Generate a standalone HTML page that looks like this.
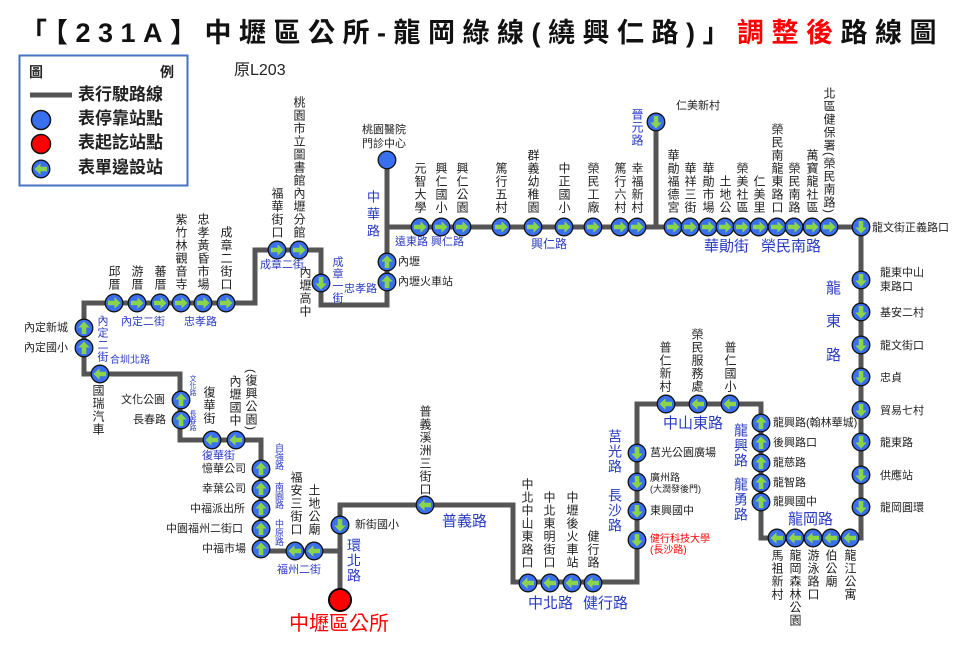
<!DOCTYPE html>
<html><head><meta charset="utf-8">
<style>
body{margin:0;background:#fff;}
#w{position:relative;width:960px;height:665px;overflow:hidden;font-family:"Liberation Sans","Noto Sans CJK TC",sans-serif;}
svg{position:absolute;left:0;top:0;}
.t{position:absolute;white-space:nowrap;color:#222;font-size:11px;line-height:12px;}
.v{position:absolute;writing-mode:vertical-rl;white-space:nowrap;color:#222;font-size:12px;line-height:14px;width:14px;letter-spacing:1px;}
.b{color:#2a3bc0;}
.r{color:#f00;}
</style></head><body><div id="w">
<svg width="960" height="665">
<defs>
<g id="a"><circle r="8.8" fill="#3a6ff0" stroke="#111" stroke-width="1.3"/><polygon points="-6,-2.3 0.5,-2.3 0.5,-5.8 6.5,0 0.5,5.8 0.5,2.3 -6,2.3" fill="#8ad44a"/></g>
</defs>
<g fill="none" stroke="#555" stroke-width="5" stroke-linejoin="miter">
<polyline points="340,600 340,505 513,505 513,582 637,582 637,404 761,404 761,538 861,538 861,227 387,227"/>
<polyline points="387,160 387,305 321,305 321,250 255,250 255,303 84,303 84,374 180,374 180,440 261,440 261,551 340,551"/>
<polyline points="656,122 656,227"/>
</g>
<circle cx="387" cy="160" r="8.8" fill="#3a6ff0" stroke="#111" stroke-width="1.3"/>
<circle cx="340" cy="600" r="11" fill="#f00" stroke="#000" stroke-width="2"/>
<g>
<use href="#a" x="114" y="303"/><use href="#a" x="137" y="303"/><use href="#a" x="160" y="303"/><use href="#a" x="181" y="303"/><use href="#a" x="203" y="303"/><use href="#a" x="226" y="303"/>
<use href="#a" x="277" y="250"/><use href="#a" x="299" y="250"/>
<use href="#a" x="420" y="227"/><use href="#a" x="441" y="227"/><use href="#a" x="462" y="227"/><use href="#a" x="501" y="227"/><use href="#a" x="533" y="227"/><use href="#a" x="564" y="227"/><use href="#a" x="593" y="227"/><use href="#a" x="620" y="227"/><use href="#a" x="637" y="227"/>
<use href="#a" x="673" y="227"/><use href="#a" x="690" y="227"/><use href="#a" x="708" y="227"/><use href="#a" x="725" y="227"/><use href="#a" x="742" y="227"/><use href="#a" x="759" y="227"/><use href="#a" x="777" y="227"/><use href="#a" x="794" y="227"/><use href="#a" x="812" y="227"/><use href="#a" x="829" y="227"/>
</g>
<g>
<use href="#a" transform="translate(321,283) rotate(90)"/>
<use href="#a" transform="translate(656,122) rotate(90)"/>
<use href="#a" transform="translate(861,227) rotate(90)"/>
<use href="#a" transform="translate(861,280) rotate(90)"/><use href="#a" transform="translate(861,312) rotate(90)"/><use href="#a" transform="translate(861,345) rotate(90)"/><use href="#a" transform="translate(861,377) rotate(90)"/><use href="#a" transform="translate(861,410) rotate(90)"/><use href="#a" transform="translate(861,442) rotate(90)"/><use href="#a" transform="translate(861,475) rotate(90)"/><use href="#a" transform="translate(861,507) rotate(90)"/>
<use href="#a" transform="translate(637,453) rotate(90)"/><use href="#a" transform="translate(637,482) rotate(90)"/><use href="#a" transform="translate(637,511) rotate(90)"/><use href="#a" transform="translate(637,540) rotate(90)"/>
<use href="#a" transform="translate(340,525) rotate(90)"/>
</g>
<g>
<use href="#a" transform="translate(387,262) rotate(-90)"/><use href="#a" transform="translate(387,282) rotate(-90)"/>
<use href="#a" transform="translate(84,328) rotate(-90)"/><use href="#a" transform="translate(84,348) rotate(-90)"/>
<use href="#a" transform="translate(181,400) rotate(-90)"/><use href="#a" transform="translate(181,420) rotate(-90)"/>
<use href="#a" transform="translate(261,469) rotate(-90)"/><use href="#a" transform="translate(261,489) rotate(-90)"/><use href="#a" transform="translate(261,509) rotate(-90)"/><use href="#a" transform="translate(261,529) rotate(-90)"/><use href="#a" transform="translate(261,549) rotate(-90)"/>
<use href="#a" transform="translate(761,423) rotate(-90)"/><use href="#a" transform="translate(761,443) rotate(-90)"/><use href="#a" transform="translate(761,463) rotate(-90)"/><use href="#a" transform="translate(761,483) rotate(-90)"/><use href="#a" transform="translate(761,502) rotate(-90)"/>
</g>
<g>
<use href="#a" transform="translate(100,374) rotate(180)"/>
<use href="#a" transform="translate(212,440) rotate(180)"/><use href="#a" transform="translate(236,440) rotate(180)"/>
<use href="#a" transform="translate(295,551) rotate(180)"/><use href="#a" transform="translate(314,551) rotate(180)"/>
<use href="#a" transform="translate(425,505) rotate(180)"/>
<use href="#a" transform="translate(528,583) rotate(180)"/><use href="#a" transform="translate(550,583) rotate(180)"/><use href="#a" transform="translate(572,583) rotate(180)"/><use href="#a" transform="translate(593,583) rotate(180)"/>
<use href="#a" transform="translate(666,404) rotate(180)"/><use href="#a" transform="translate(698,404) rotate(180)"/><use href="#a" transform="translate(730,404) rotate(180)"/>
<use href="#a" transform="translate(777,538) rotate(180)"/><use href="#a" transform="translate(795,538) rotate(180)"/><use href="#a" transform="translate(813,538) rotate(180)"/><use href="#a" transform="translate(831,538) rotate(180)"/><use href="#a" transform="translate(850,538) rotate(180)"/>
</g>
<rect x="19.5" y="55.5" width="168" height="130" fill="none" stroke="#4472c4" stroke-width="2"/>
<line x1="30" y1="95" x2="72" y2="95" stroke="#555" stroke-width="5"/>
<circle cx="41" cy="120" r="9.5" fill="#3a6ff0" stroke="#111" stroke-width="1.5"/>
<circle cx="41" cy="144" r="9.5" fill="#f00" stroke="#111" stroke-width="1.5"/>
<use href="#a" transform="translate(41,169) rotate(180)"/>
</svg>

<div class="t" style="left:20px;top:16px;font-size:27px;line-height:34px;font-weight:bold;letter-spacing:7.5px;color:#111;">「【231A】中壢區公所-龍岡綠線(繞興仁路)」<span class="r">調整後</span>路線圖</div>
<div class="t" style="left:29px;top:64px;font-size:14px;line-height:16px;font-weight:bold;">圖</div>
<div class="t" style="left:160px;top:64px;font-size:14px;line-height:16px;font-weight:bold;">例</div>
<div class="t" style="left:78px;top:85px;font-size:17px;line-height:19px;font-weight:bold;">表行駛路線</div>
<div class="t" style="left:78px;top:109px;font-size:17px;line-height:19px;font-weight:bold;">表停靠站點</div>
<div class="t" style="left:78px;top:133px;font-size:17px;line-height:19px;font-weight:bold;">表起訖站點</div>
<div class="t" style="left:78px;top:158px;font-size:17px;line-height:19px;font-weight:bold;">表單邊設站</div>
<div class="t" style="left:234px;top:62px;font-size:16px;line-height:18px;">原L203</div>

<div class="v" style="left:107px;bottom:374px;">邱厝</div>
<div class="v" style="left:130px;bottom:374px;">游厝</div>
<div class="v" style="left:153px;bottom:374px;">蕃厝</div>
<div class="v" style="left:174px;bottom:374px;">紫竹林觀音寺</div>
<div class="v" style="left:196px;bottom:374px;">忠孝黃昏市場</div>
<div class="v" style="left:219px;bottom:374px;">成章二街口</div>
<div class="t b" style="left:121px;top:316px;">內定二街</div>
<div class="t b" style="left:184px;top:316px;">忠孝路</div>
<div class="v" style="left:270px;bottom:426px;">福華街口</div>
<div class="v" style="left:292px;bottom:426px;">桃園市立圖書館內壢分館</div>
<div class="t b" style="left:260px;top:259px;">成章二街</div>
<div class="v" style="left:298px;top:266px;">內壢高中</div>
<div class="v b" style="left:330px;top:256px;font-size:11px;">成章一街</div>
<div class="t b" style="left:344px;top:283px;">忠孝路</div>
<div class="v b" style="left:366px;top:190px;font-size:13px;line-height:16px;letter-spacing:4px;">中華路</div>
<div class="t" style="left:362px;top:124px;">桃園醫院</div>
<div class="t" style="left:362px;top:138px;">門診中心</div>
<div class="t b" style="left:395px;top:236px;">遠東路</div>
<div class="t b" style="left:431px;top:236px;">興仁路</div>
<div class="t" style="left:398px;top:256px;">內壢</div>
<div class="t" style="left:398px;top:276px;">內壢火車站</div>

<div class="v" style="left:413px;bottom:451px;">元智大學</div>
<div class="v" style="left:434px;bottom:451px;">興仁國小</div>
<div class="v" style="left:455px;bottom:451px;">興仁公園</div>
<div class="v" style="left:494px;bottom:451px;">篤行五村</div>
<div class="v" style="left:526px;bottom:451px;">群義幼稚園</div>
<div class="v" style="left:557px;bottom:451px;">中正國小</div>
<div class="v" style="left:586px;bottom:451px;">榮民工廠</div>
<div class="v" style="left:613px;bottom:451px;">篤行六村</div>
<div class="v" style="left:630px;bottom:451px;">幸福新村</div>
<div class="v" style="left:666px;bottom:451px;">華勛福德宮</div>
<div class="v" style="left:683px;bottom:451px;">華祥三街</div>
<div class="v" style="left:701px;bottom:451px;">華勛市場</div>
<div class="v" style="left:718px;bottom:451px;">土地公</div>
<div class="v" style="left:735px;bottom:451px;">榮美社區</div>
<div class="v" style="left:752px;bottom:451px;">仁美里</div>
<div class="v" style="left:770px;bottom:451px;">榮民南龍東路口</div>
<div class="v" style="left:787px;bottom:451px;">榮民南路</div>
<div class="v" style="left:805px;bottom:451px;">萬寶龍社區</div>
<div class="v" style="left:822px;bottom:451px;">北區健保署(榮民南路)</div>
<div class="t b" style="left:531px;top:238px;font-size:12px;">興仁路</div>
<div class="t b" style="left:704px;top:238px;font-size:15px;line-height:18px;">華勛街</div>
<div class="t b" style="left:761px;top:238px;font-size:15px;line-height:18px;">榮民南路</div>
<div class="v b" style="left:630px;top:108px;">晉元路</div>
<div class="t" style="left:676px;top:100px;">仁美新村</div>
<div class="t" style="left:872px;top:222px;">龍文街正義路口</div>

<div class="t" style="left:880px;top:267px;">龍東中山</div>
<div class="t" style="left:880px;top:281px;">東路口</div>
<div class="t" style="left:880px;top:307px;">基安二村</div>
<div class="t" style="left:880px;top:340px;">龍文街口</div>
<div class="t" style="left:880px;top:372px;">忠貞</div>
<div class="t" style="left:880px;top:405px;">貿易七村</div>
<div class="t" style="left:880px;top:437px;">龍東路</div>
<div class="t" style="left:880px;top:470px;">供應站</div>
<div class="t" style="left:880px;top:502px;">龍岡圓環</div>
<div class="t b" style="left:826px;top:280px;font-size:15px;line-height:18px;">龍</div>
<div class="t b" style="left:826px;top:313px;font-size:15px;line-height:18px;">東</div>
<div class="t b" style="left:826px;top:347px;font-size:15px;line-height:18px;">路</div>

<div class="t" style="left:24px;top:322px;">內定新城</div>
<div class="t" style="left:24px;top:342px;">內定國小</div>
<div class="v b" style="left:95px;top:315px;font-size:11px;">內定二街</div>
<div class="t b" style="left:110px;top:355px;font-size:10px;">合圳北路</div>
<div class="v" style="left:91px;top:384px;">國瑞汽車</div>
<div class="t" style="left:121px;top:394px;">文化公園</div>
<div class="t" style="left:133px;top:414px;">長春路</div>
<div class="v b" style="left:188px;top:375px;font-size:7px;width:9px;line-height:9px;letter-spacing:0;">文化路</div>
<div class="v b" style="left:188px;top:410px;font-size:7px;width:9px;line-height:9px;letter-spacing:0;">長春路</div>
<div class="v" style="left:202px;bottom:240px;">復華街</div>
<div class="v" style="left:228px;bottom:238px;">內壢國中</div>
<div class="v" style="left:244px;bottom:234px;">(復興公園)</div>
<div class="t b" style="left:202px;top:450px;">復華街</div>
<div class="t" style="left:202px;top:463px;">憶華公司</div>
<div class="t" style="left:202px;top:483px;">幸葉公司</div>
<div class="t" style="left:190px;top:503px;">中福派出所</div>
<div class="t" style="left:166px;top:523px;">中園福州二街口</div>
<div class="t" style="left:202px;top:543px;">中福市場</div>
<div class="v b" style="left:273px;top:443px;font-size:9px;width:11px;line-height:11px;letter-spacing:0;">自強路</div>
<div class="v b" style="left:273px;top:482px;font-size:9px;width:11px;line-height:11px;letter-spacing:0;">南園路</div>
<div class="v b" style="left:273px;top:519px;font-size:9px;width:11px;line-height:11px;letter-spacing:0;">中原路</div>
<div class="v" style="left:289px;bottom:129px;">福安三街口</div>
<div class="v" style="left:307px;bottom:129px;">土地公廟</div>
<div class="t b" style="left:277px;top:564px;">福州二街</div>
<div class="t" style="left:355px;top:519px;">新街國小</div>
<div class="v b" style="left:346px;top:538px;font-size:14px;width:16px;line-height:16px;">環北路</div>
<div class="t r" style="left:289px;top:612px;font-size:20px;line-height:24px;">中壢區公所</div>
<div class="v" style="left:418px;bottom:169px;">普義溪洲三街口</div>
<div class="t b" style="left:442px;top:513px;font-size:15px;line-height:18px;">普義路</div>

<div class="v" style="left:520px;bottom:96px;">中北中山東路口</div>
<div class="v" style="left:542px;bottom:96px;">中北東明街口</div>
<div class="v" style="left:565px;bottom:96px;">中壢後火車站</div>
<div class="v" style="left:586px;bottom:96px;">健行路</div>
<div class="t b" style="left:528px;top:595px;font-size:15px;line-height:18px;">中北路</div>
<div class="t b" style="left:583px;top:595px;font-size:15px;line-height:18px;">健行路</div>
<div class="v b" style="left:607px;top:429px;font-size:14px;width:16px;line-height:16px;">莒光路</div>
<div class="v b" style="left:607px;top:488px;font-size:14px;width:16px;line-height:16px;">長沙路</div>
<div class="t" style="left:650px;top:447px;">莒光公園廣場</div>
<div class="t" style="left:650px;top:474px;font-size:10px;line-height:10px;">廣州路</div>
<div class="t" style="left:650px;top:484px;font-size:9px;line-height:10px;">(大潤發後門)</div>
<div class="t" style="left:650px;top:505px;">東興國中</div>
<div class="t r" style="left:650px;top:534px;font-size:10px;line-height:11px;">健行科技大學</div>
<div class="t r" style="left:650px;top:545px;font-size:10px;line-height:11px;">(長沙路)</div>
<div class="t b" style="left:663px;top:415px;font-size:15px;line-height:18px;">中山東路</div>
<div class="v" style="left:658px;bottom:272px;">普仁新村</div>
<div class="v" style="left:690px;bottom:272px;">榮民服務處</div>
<div class="v" style="left:723px;bottom:272px;">普仁國小</div>
<div class="v b" style="left:733px;top:423px;font-size:14px;width:16px;line-height:16px;">龍興路</div>
<div class="v b" style="left:733px;top:477px;font-size:14px;width:16px;line-height:16px;">龍勇路</div>
<div class="t" style="left:773px;top:417px;">龍興路(翰林華城)</div>
<div class="t" style="left:773px;top:437px;">後興路口</div>
<div class="t" style="left:773px;top:457px;">龍慈路</div>
<div class="t" style="left:773px;top:477px;">龍智路</div>
<div class="t" style="left:773px;top:496px;">龍興國中</div>
<div class="t b" style="left:788px;top:511px;font-size:15px;line-height:18px;">龍岡路</div>
<div class="v" style="left:770px;top:549px;">馬祖新村</div>
<div class="v" style="left:788px;top:549px;">龍岡森林公園</div>
<div class="v" style="left:806px;top:549px;">游泳路口</div>
<div class="v" style="left:824px;top:549px;">伯公廟</div>
<div class="v" style="left:843px;top:549px;">龍江公寓</div>
</div></body></html>
